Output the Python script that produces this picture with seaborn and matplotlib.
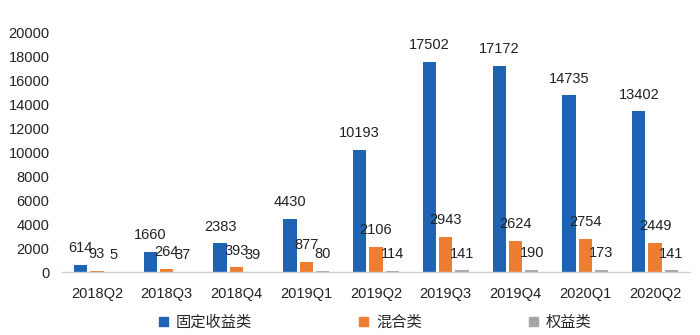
import matplotlib
matplotlib.use("Agg")
import matplotlib.pyplot as plt
import seaborn as sns
import pandas as pd

quarters = ["2018Q2", "2018Q3", "2018Q4", "2019Q1", "2019Q2", "2019Q3", "2019Q4", "2020Q1", "2020Q2"]
fixed_income = [614, 1660, 2383, 4430, 10193, 17502, 17172, 14735, 13402]
mixed = [93, 264, 393, 877, 2106, 2943, 2624, 2754, 2449]
equity = [5, 37, 39, 80, 114, 141, 190, 173, 141]
series_names = ["固定收益类", "混合类", "权益类"]
colors = ["#1F63B5", "#ED7D31", "#A5A5A5"]

rows = []
for name, vals in zip(series_names, [fixed_income, mixed, equity]):
    for q, v in zip(quarters, vals):
        rows.append({"quarter": q, "value": v, "type": name})
df = pd.DataFrame(rows)

sns.set_theme(style="white")
plt.rcParams["font.family"] = ["Liberation Sans", "Noto Sans CJK SC", "DejaVu Sans"]

fig = plt.figure(figsize=(7, 3.35), dpi=100)
ax = fig.add_axes([0.0886, 0.188, 0.897, 0.716])

sns.barplot(data=df, x="quarter", y="value", hue="type", palette=colors,
            width=0.7, gap=0.18, ax=ax, order=quarters, hue_order=series_names,
            saturation=1, legend=True, linewidth=0, edgecolor="none")

for cont in ax.containers:
    ax.bar_label(cont, padding=7, fontsize=10.5, color="#222222")

ax.set_ylim(0, 20000)
ax.set_yticks(range(0, 20001, 2000))
ax.set_xlabel("")
ax.set_ylabel("")
for s in ["top", "right", "left"]:
    ax.spines[s].set_visible(False)
ax.spines["bottom"].set_color("#D0D0D0")
ax.spines["bottom"].set_linewidth(1)
ax.tick_params(axis="y", length=0, pad=9, labelsize=10.5, labelcolor="#222222")
ax.tick_params(axis="x", length=0, pad=11, labelsize=10.5, labelcolor="#222222")

ax.legend_.remove()
handles = [plt.Rectangle((0, 0), 1, 1, color=c) for c in colors]
fig.legend(handles, series_names, loc="center", bbox_to_anchor=(0.536, 0.038),
           ncol=3, frameon=False, handlelength=0.6, handleheight=0.6,
           handletextpad=0.5, columnspacing=7,
           prop={"family": ["Noto Sans CJK SC"], "size": 11})

fig.savefig("out.png", dpi=100)
